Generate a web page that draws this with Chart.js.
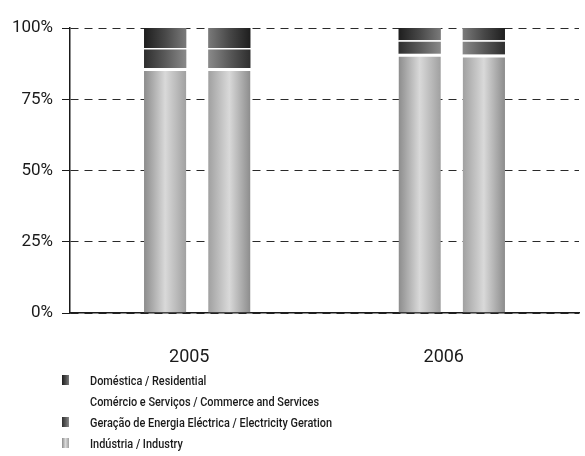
<!DOCTYPE html>
<html>
<head>
<meta charset="utf-8">
<script src="https://cdn.jsdelivr.net/npm/chart.js@4"></script>
<style>
  html, body { margin: 0; padding: 0; background: #fff; }
  #wrap { position: relative; width: 585px; height: 456px; }
  #legend { position: absolute; left: 60px; top: 371px; font-family: Roboto, "Liberation Sans", sans-serif; font-size: 13px; font-weight: 500; color: #1a1a1a; }
  .item { position: relative; height: 21px; line-height: 19px; padding-left: 30px; white-space: nowrap; }
  .item span.t { display: inline-block; transform: scaleX(0.84); transform-origin: 0 50%; }
  .icon { position: absolute; left: 2px; top: 4px; width: 7px; height: 10px; }
</style>
</head>
<body>
<div id="wrap">
  <canvas id="chart" width="585" height="456"></canvas>
  <div id="legend"></div>
</div>
<script>
const years = ['2005', '2006'];
const yTicks = [0, 25, 50, 75, 100];

// two bars per year, shares in %
const industriaA = [86, 91];
const industriaB = [86, 90.7];
const geracaoA = [6.5, 4.2];
const geracaoB = [6.5, 4.5];
const comercioA = [0.5, 0.5];
const comercioB = [0.5, 0.5];
const domesticaA = [7.0, 4.3];
const domesticaB = [7.0, 4.3];

const FONT = 'Roboto, "Liberation Sans", sans-serif';

// stacking order, bottom to top
const series = [
  { label: 'Indústria / Industry', a: industriaA, b: industriaB, stops: ['#8c8c8c', '#d9d9d9', '#a0a0a0'], gap: 3 },
  { label: 'Geração de Energia Eléctrica / Electricity Geration', a: geracaoA, b: geracaoB, stops: ['#2e2e2e', '#5a5a5a', '#8a8a8a'] },
  { label: 'Comércio e Serviços / Commerce and Services', a: comercioA, b: comercioB, stops: ['#ffffff', '#ffffff', '#ffffff'] },
  { label: 'Doméstica / Residential', a: domesticaA, b: domesticaB, stops: ['#1e1e1e', '#484848', '#7a7a7a'] },
];
const legendOrder = ['Doméstica / Residential', 'Comércio e Serviços / Commerce and Services',
  'Geração de Energia Eléctrica / Electricity Geration', 'Indústria / Industry'];

function shade(stops, flip) {
  const cols = flip ? [...stops].reverse() : stops;
  return ctx => {
    const el = ctx.element;
    if (!el || !Number.isFinite(el.x) || !el.width) return cols[1];
    const g = ctx.chart.ctx.createLinearGradient(el.x - el.width / 2, 0, el.x + el.width / 2, 0);
    cols.forEach((c, i) => g.addColorStop(i / (cols.length - 1), c));
    return g;
  };
}

const datasets = [];
series.forEach(s => {
  const border = { top: s.gap || 0, right: 0, bottom: 0, left: 0 };
  datasets.push({ label: s.label, data: s.a, stack: 'a', backgroundColor: shade(s.stops, false), borderColor: '#fff', borderWidth: border, borderSkipped: false });
  datasets.push({ label: s.label, data: s.b, stack: 'b', backgroundColor: shade(s.stops, true), borderColor: '#fff', borderWidth: border, borderSkipped: false });
});

const chart = new Chart(document.getElementById('chart'), {
  type: 'bar',
  data: { labels: years, datasets },
  options: {
    responsive: false,
    animation: false,
    categoryPercentage: 0.504,
    barPercentage: 0.66,
    layout: { padding: { top: 28, right: 6, left: 0, bottom: 0 } },
    plugins: { legend: { display: false }, tooltip: { enabled: false } },
    scales: {
      x: {
        stacked: true,
        grid: { display: false, drawTicks: false },
        border: { display: true, color: '#1a1a1a', width: 1.5 },
        ticks: { color: '#1a1a1a', font: { family: FONT, size: 18 }, padding: 34, labelOffset: -8 },
        afterFit: s => { s.height = 143; },
      },
      y: {
        stacked: true,
        min: 0,
        max: 100,
        afterBuildTicks: s => { s.ticks = yTicks.map(v => ({ value: v })); },
        grid: { color: '#2a2a2a', lineWidth: 1, tickLength: 8, tickBorderDash: [], tickColor: '#1a1a1a' },
        border: { display: true, color: '#1a1a1a', width: 1.5, dash: [8, 6] },
        ticks: { color: '#1a1a1a', font: { family: FONT, size: 17 }, padding: 9, callback: v => v + '%' },
        afterFit: s => { s.width = 70; },
      },
    },
  },
});
chart.update('none');

// legend, top to bottom
const legend = document.getElementById('legend');
legendOrder.forEach(name => {
  const s = series.find(x => x.label === name);
  const row = document.createElement('div');
  row.className = 'item';
  if (s.stops[0] !== '#ffffff') {
    const ic = document.createElement('span');
    ic.className = 'icon';
    ic.style.background = `linear-gradient(90deg, ${s.stops.join(', ')})`;
    row.appendChild(ic);
  }
  const t = document.createElement('span');
  t.className = 't';
  t.textContent = s.label;
  row.appendChild(t);
  legend.appendChild(row);
});
</script>
</body>
</html>
